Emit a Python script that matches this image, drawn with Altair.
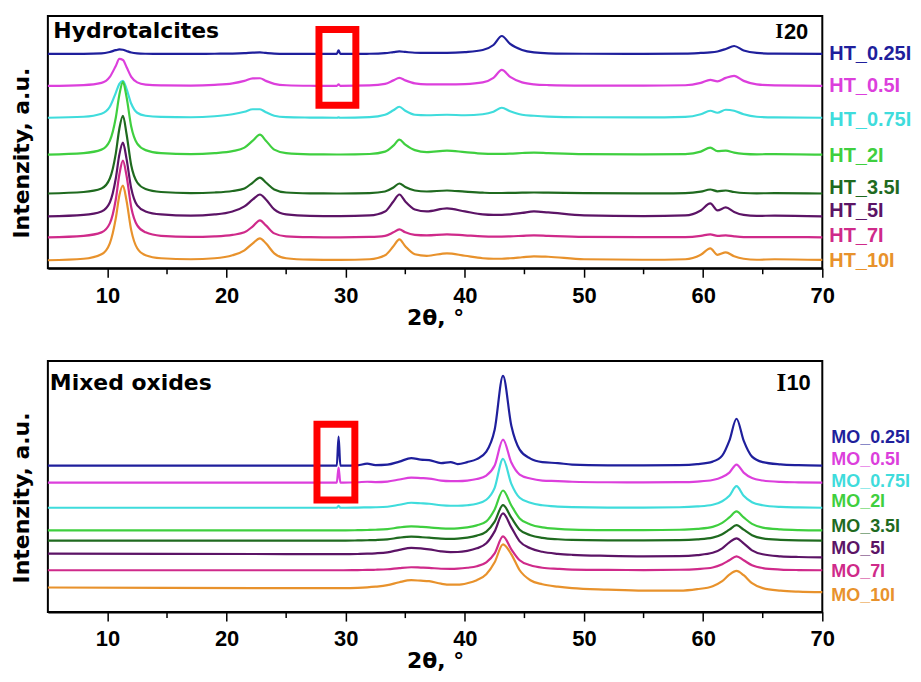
import altair as alt
import pandas as pd

# ---------------- data: Hydrotalcites (top panel) ----------------
HT_X = [5, 8, 9.5, 10.2, 10.7, 11.0, 11.3, 11.6, 12.0, 12.5, 13.2, 14.5, 17, 19, 20.5,
        21.5, 22.2, 22.8, 23.3, 24.0, 25.0, 27, 29.25, 29.4, 29.55, 32, 33.3, 34.0, 34.5,
        35.0, 35.8, 36.8, 38.5, 40.0, 41.5, 42.4, 43.1, 43.8, 44.8, 45.8, 47, 50, 55,
        58.5, 59.8, 60.6, 61.2, 61.9, 62.6, 63.4, 64.5, 66, 70]

HT_NAMES = ["HT_0.25I", "HT_0.5I", "HT_0.75I", "HT_2I", "HT_3.5I", "HT_5I", "HT_7I", "HT_10I"]
HT_OFFSETS = [215, 183, 151, 114, 75, 52, 31, 8]
HT_LABEL_Y = [215, 183, 149, 113, 80, 57, 32, 7]

HT_025 = [0, 0.1, 0.5, 2, 3.8, 4.5, 4.2, 3, 1.5, 0.6, 0.2, 0, 0, 0.2, 0.4, 0.8, 1.3, 1.5, 1.0, 0.4,
          0.1, 0, 0, 3.5, 0, 0.2, 0.8, 1.8, 2.5, 2.0, 1.2, 1.0, 1.0, 1.8, 4, 9, 18, 10, 4, 1.5,
          0.6, 0.2, 0.1, 0.4, 1, 1.5, 2.5, 5, 8, 3.5, 1, 0.3, 0]
HT_05 = [0, 0.8, 3, 9, 20, 27, 26, 19, 9, 3.5, 1.3, 0.5, 0.3, 1, 2.5, 5, 7.5, 7.6, 5, 2,
         0.6, 0.1, 0, 1.5, 0, 0.4, 2, 5.5, 8, 5.5, 2.5, 1.5, 1.5, 1.8, 3.5, 8, 16, 9, 3.5, 1.5,
         0.8, 0.3, 0.2, 0.6, 3, 6, 4.5, 8, 10, 5, 1.5, 0.4, 0]
HT_075 = [0, 1, 4, 11, 25, 34, 37, 29, 14, 5, 2, 0.8, 0.5, 1.5, 3.5, 6, 8.5, 8.5, 5.5, 2,
          0.6, 0.2, 0, 0.3, 0, 0.6, 3, 7.5, 11, 7, 3, 2.5, 3, 2.5, 3.5, 6, 10, 6.5, 3, 2,
          1.2, 0.5, 0.3, 0.8, 3.5, 7, 5, 8, 7, 3.5, 1, 0.3, 0]
HT_2 = [0, 1.5, 5, 14, 37, 60, 73, 58, 28, 11, 4.5, 1.5, 0.5, 1.5, 3.5, 7, 14, 20, 14, 5,
        1.5, 0.3, 0.1, 0.1, 0.1, 0.6, 3, 9, 15, 10, 4.5, 2.5, 4, 2.5, 1, 0.8, 0.8, 1, 1.6, 2,
        1.5, 0.5, 0.2, 0.5, 3, 7, 3.5, 4, 2, 0.8, 0.3, 0.5, 0]
HT_35 = [0, 1.5, 5, 15, 40, 65, 78, 60, 28, 11, 4.5, 1.5, 0.4, 1, 2.5, 5, 11, 16, 11, 4,
         1, 0.2, 0, 0, 0, 0.4, 2, 6, 10, 6.5, 3, 2, 3, 1.8, 0.8, 0.5, 0.5, 0.6, 0.8, 1,
         0.8, 0.3, 0.1, 0.3, 1.8, 4, 2.2, 3, 1.5, 0.5, 0.2, 0.3, 0]
HT_5 = [0, 1.5, 5, 14, 38, 62, 74, 58, 28, 11, 5, 2, 0.8, 2, 5, 10, 17, 22, 17, 7,
        2, 0.5, 0.3, 0.3, 0.3, 1, 5, 15, 22, 15, 7, 5, 8, 5, 2, 1.5, 1.5, 2, 3.5, 5,
        4, 1, 0.3, 1, 6, 13, 6, 9, 4.5, 1.5, 0.5, 0.8, 0]
HT_7 = [0, 1.5, 5, 14, 38, 63, 77, 62, 30, 12, 5, 1.5, 0.4, 1, 2.5, 5, 11, 17, 12, 4,
        1, 0.2, 0, 0, 0, 0.4, 1.5, 5, 8, 5, 2.5, 2, 3, 2, 1, 0.8, 0.8, 1, 1.5, 2,
        1.5, 0.5, 0.2, 0.3, 1.5, 3, 1.5, 2, 1, 0.3, 0.2, 0.3, 0]
HT_10 = [0, 1.5, 6, 17, 42, 65, 75, 60, 30, 12, 5, 2, 1, 2, 5, 10, 17, 22, 17, 7,
         2, 0.6, 0.3, 0.3, 0.3, 1, 5, 14, 21, 14, 6, 4.5, 7, 4.5, 2, 1.5, 1.5, 2, 3, 4,
         3.5, 1, 0.5, 1, 5.5, 12, 5.5, 8, 4, 1.5, 0.5, 1, 0.3]
HT_SERIES = [HT_025, HT_05, HT_075, HT_2, HT_35, HT_5, HT_7, HT_10]

# ---------------- data: Mixed oxides (bottom panel) ----------------
MO_X = [5, 15, 25, 27.5, 29.0, 29.25, 29.4, 29.55, 29.8, 31.0, 31.8, 32.5, 33.5, 34.5, 35.5,
        36.3, 37.0, 38.0, 38.8, 39.4, 40.2, 41.0, 41.8, 42.5, 43.2, 43.9, 44.6, 45.5, 46.5,
        47.8, 49, 52, 55, 58, 59.5, 60.8, 61.6, 62.2, 62.8, 63.4, 64.1, 65.0, 66.5, 68, 70]

MO_NAMES = ["MO_0.25I", "MO_0.5I", "MO_0.75I", "MO_2I", "MO_3.5I", "MO_5I", "MO_7I", "MO_10I"]
MO_OFFSETS = [147, 130, 104.7, 82, 71.7, 55, 42, 20]
MO_LABEL_Y = [175, 153, 131, 110, 85, 63, 40, 16]

MO_025 = [0, 0, 0, 0, 0, 0, 29, 0, 0, 0.3, 2, 0.5, 1, 4, 7.5, 6, 5.5, 2.5, 3.5, 1.5,
          3.5, 6.5, 14, 36, 90, 40, 16, 7, 3.5, 2.5, 1, 0.3, 0.2, 0.5, 1.5, 4, 10, 25, 47, 25,
          9, 3.5, 1.2, 0.4, 0]
MO_05 = [0, 0, 0, 0, 0, 0, 15, 0, 0, 0.3, 0.8, 0.5, 1, 3, 5, 4.5, 4, 2, 1.5, 1.5,
         2, 3.5, 7, 17, 43, 20, 8, 4, 2, 1.5, 0.8, 0.3, 0.2, 0.4, 1, 2.5, 5.5, 10, 18, 10,
         4.5, 2, 0.6, 0.2, 0]
MO_075 = [0, 0, 0, 0, 0, 0, 2, 0, 0, 0.2, 0.4, 0.5, 1, 3, 5, 4.5, 4, 2.5, 2, 2,
          2.5, 4, 8, 20, 49, 24, 10, 5, 2.5, 1.2, 0.6, 0.2, 0.2, 0.5, 1.3, 3, 6.5, 12, 21.6, 12,
          5.5, 2.5, 0.8, 0.3, 0]
MO_2 = [0, 0, 0, 0, 0, 0, 0, 0, 0, 0.2, 0.4, 0.6, 1.2, 3, 4, 3.5, 3, 2, 1.8, 2,
        3, 5, 9, 21, 40, 25, 12, 6, 3, 1.5, 0.8, 0.3, 0.2, 0.6, 1.5, 3.5, 7.5, 13, 19, 13,
        6.5, 2.8, 1, 0.3, 0]
MO_35 = [0, 0, 0, 0, 0, 0, 0, 0, 0, 0.2, 0.4, 0.6, 1.2, 3, 4, 3.5, 3, 2, 1.8, 2,
         3, 5, 9, 19, 35.6, 23, 11, 5.5, 2.8, 1.4, 0.7, 0.3, 0.2, 0.5, 1.3, 3, 6.5, 11, 15.6, 11,
         5.5, 2.3, 0.8, 0.2, 0]
MO_5 = [3.7, 3.5, 3.2, 3.2, 3.1, 3.1, 3.1, 3.1, 3.1, 3.3, 3.6, 4, 5, 7.5, 9.5, 9, 8, 6, 5.2, 5.3,
        6.5, 9, 14, 26, 44, 30, 16, 9, 5.5, 3.5, 2.5, 1.5, 1, 1.2, 2.2, 4.5, 9, 15, 19, 14,
        7, 3, 1, 0.3, 0]
MO_7 = [0, 0, 0, 0, 0, 0, 0, 0, 0, 0.2, 0.3, 0.5, 1, 2.2, 3, 2.7, 2.4, 1.5, 1.4, 1.6,
        2.5, 4, 8, 17, 34, 21, 10, 5, 2.5, 1.4, 0.7, 0.3, 0.2, 0.5, 1.2, 2.8, 6, 10, 14, 10,
        5, 2.2, 0.7, 0.2, 0]
MO_10 = [4.7, 4.3, 4.0, 4.0, 4.0, 4.0, 4.0, 4.0, 4.0, 4.3, 4.8, 5.5, 7, 10, 12, 11.5, 11, 8.5, 7.5, 7.5,
         9, 12, 18, 30, 48, 38, 22, 12, 8, 5.5, 4, 2.5, 1.5, 1.5, 3, 6, 11, 17.5, 21.3, 17,
         9, 4, 1.5, 0.5, 0]
MO_SERIES = [MO_025, MO_05, MO_075, MO_2, MO_35, MO_5, MO_7, MO_10]

COLORS = ["#1f1f9c", "#dc3fdc", "#3fdcdc", "#3fcf3f", "#1f6a1f", "#5c1466", "#cf2a8a", "#e8922c"]
MINOR_TICKS = [15, 25, 35, 45, 55, 65]
MAJOR_TICKS = [10, 20, 30, 40, 50, 60, 70]


def build(names, offsets, series, xs):
    rows = []
    for n, o, s in zip(names, offsets, series):
        for x, v in zip(xs, s):
            rows.append({"series": n, "two_theta": x, "y": o + v})
    return pd.DataFrame(rows)


W = 777
XSCALE = alt.Scale(domain=[5, 70], nice=False, zero=False)


def x_axis():
    return alt.Axis(title="2θ, °", values=MAJOR_TICKS, tickSize=9, tickWidth=1.5,
                    tickColor="black", domainColor="black", domainWidth=2,
                    labelFont="Liberation Sans", labelFontSize=22, labelFontWeight="bold",
                    labelColor="black", labelPadding=8, labelFlush=False, labelOverlap=False,
                    titleFont="DejaVu Sans", titleFontSize=22, titleFontWeight="bold",
                    titleColor="black", titlePadding=1, grid=False)


def y_axis():
    return alt.Axis(title="Intenzity, a.u.", labels=False, ticks=False, domain=False,
                    grid=False, titleFont="DejaVu Sans", titleFontSize=22,
                    titleFontWeight="bold", titleColor="black", titlePadding=14, titleY=137)


def panel(names, offsets, series, xs, label_y, label_dx, label_size, h, title, title_xy,
          bar_num, bar_i_xy, bar_i_size, bar_num_xy, rect_px):
    df = build(names, offsets, series, xs)
    yscale = alt.Scale(domain=[0, h], nice=False, zero=False)

    def X(f):
        return alt.X(f, type="quantitative", scale=XSCALE, axis=x_axis())

    def Y(f):
        return alt.Y(f, type="quantitative", scale=yscale, axis=y_axis())

    color = alt.Color("series:N", scale=alt.Scale(domain=names, range=COLORS), legend=None)

    lines = alt.Chart(df).mark_line(strokeWidth=2.2, interpolate="monotone").encode(
        x=X("two_theta"), y=Y("y"), color=color)

    lab_df = pd.DataFrame({"series": names, "y": label_y})
    labels = alt.Chart(lab_df).mark_text(
        align="left", baseline="middle", font="Liberation Sans", fontSize=label_size,
        fontWeight="bold").encode(
        x=alt.value(W + label_dx), y=Y("y"), text="series:N", color=color)

    minor = alt.Chart(pd.DataFrame({"two_theta": MINOR_TICKS})).mark_rule(
        color="black", strokeWidth=1.5).encode(
        x=X("two_theta"), y=alt.value(h), y2=alt.value(h + 6))

    one = pd.DataFrame({"a": [0]})
    rect = alt.Chart(one).mark_rect(fillOpacity=0, stroke="#ff0000", strokeWidth=7).encode(
        x=alt.value(rect_px[0]), x2=alt.value(rect_px[1]),
        y=alt.value(rect_px[2]), y2=alt.value(rect_px[3]))

    ttl = alt.Chart(one).mark_text(
        text=title, align="left", baseline="alphabetic", font="DejaVu Sans",
        fontSize=22, fontWeight="bold", color="black").encode(
        x=alt.value(title_xy[0]), y=alt.value(title_xy[1]))

    bar_i = alt.Chart(one).mark_text(
        text="I", align="center", baseline="middle", font="Liberation Serif",
        fontSize=bar_i_size, fontWeight="bold", color="black").encode(
        x=alt.value(bar_i_xy[0]), y=alt.value(bar_i_xy[1]))

    bar_n = alt.Chart(one).mark_text(
        text=bar_num, align="left", baseline="middle", font="Liberation Sans",
        fontSize=22, fontWeight="bold", color="black").encode(
        x=alt.value(bar_num_xy[0]), y=alt.value(bar_num_xy[1]))

    return alt.layer(lines, labels, minor, rect, ttl, bar_i, bar_n).properties(
        width=W, height=h)


top = panel(HT_NAMES, HT_OFFSETS, HT_SERIES, HT_X, HT_LABEL_Y, 7, 20, 253,
            "Hydrotalcites", (5.5, 22), "20", (734, 15.5), 21, (738.5, 16),
            (272, 309, 13.5, 89.5))
bottom = panel(MO_NAMES, MO_OFFSETS, MO_SERIES, MO_X, MO_LABEL_Y, 9, 18, 252,
               "Mixed oxides", (2, 29), "10", (736, 22.5), 25, (741, 22),
               (270, 308, 63.5, 139.5))

chart = alt.vconcat(top, bottom, spacing=31).configure_view(
    stroke="black", strokeWidth=2).properties(
    padding={"left": 2, "top": 6, "right": 0, "bottom": 0})

chart.save("out.html", embed_options={"renderer": "svg", "actions": False})
